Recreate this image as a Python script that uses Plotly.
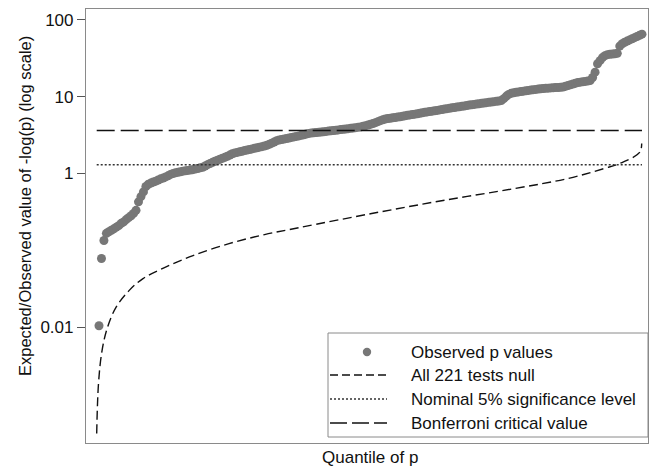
import plotly.graph_objects as go

# Observed -log10(p) for the 221 tests, sorted ascending (quantile rank i/222)
observed = [
    0.0104, 0.078, 0.134, 0.166, 0.174, 0.182, 0.19, 0.20, 0.209, 0.224,
    0.234, 0.251, 0.266, 0.282, 0.302, 0.331, 0.427, 0.50, 0.575, 0.676,
    0.724, 0.75, 0.776, 0.794, 0.822, 0.851, 0.871, 0.902, 0.933, 0.973,
    1.0, 1.02, 1.035, 1.054, 1.072, 1.084, 1.096, 1.109, 1.122, 1.143,
    1.161, 1.186, 1.208, 1.253, 1.303, 1.349, 1.396, 1.445, 1.486, 1.531,
    1.578, 1.622, 1.679, 1.738, 1.811, 1.854, 1.884, 1.919, 1.95, 1.986,
    2.018, 2.056, 2.089, 2.128, 2.163, 2.203, 2.239, 2.28, 2.328, 2.399,
    2.483, 2.57, 2.679, 2.729, 2.773, 2.812, 2.851, 2.897, 2.951, 2.999,
    3.041, 3.09, 3.141, 3.199, 3.273, 3.327, 3.357, 3.388, 3.42, 3.443,
    3.467, 3.499, 3.532, 3.565, 3.597, 3.631, 3.664, 3.698, 3.733, 3.767,
    3.802, 3.837, 3.873, 3.908, 3.954, 3.999, 4.046, 4.121, 4.198, 4.285,
    4.375, 4.467, 4.592, 4.732, 4.875, 5.012, 5.129, 5.2, 5.248, 5.309,
    5.37, 5.433, 5.495, 5.572, 5.649, 5.728, 5.794, 5.861, 5.929, 6.012,
    6.095, 6.18, 6.266, 6.339, 6.412, 6.486, 6.561, 6.637, 6.73, 6.823,
    6.918, 6.998, 7.079, 7.161, 7.244, 7.328, 7.413, 7.499, 7.586, 7.691,
    7.78, 7.87, 7.943, 8.035, 8.11, 8.204, 8.279, 8.375, 8.472, 8.551,
    8.63, 8.71, 8.81, 8.913, 9.441, 10.12, 10.72, 11.09, 11.27, 11.43,
    11.56, 11.69, 11.83, 11.97, 12.08, 12.22, 12.36, 12.47, 12.59, 12.71,
    12.79, 12.88, 12.94, 13.03, 13.09, 13.15, 13.21, 13.27, 13.37, 13.65,
    13.96, 14.29, 14.62, 14.96, 15.31, 15.49, 15.67, 15.85, 16.03, 16.22,
    17.78, 20.89, 26.92, 29.5, 32.36, 34.28, 35.32, 35.73, 36.06, 36.31,
    36.73, 45.71, 48.98, 51.29, 53.09, 54.95, 56.89, 58.88, 60.95, 63.1,
    65.31,
]
n_tests = len(observed)
quantile_obs = [(i + 1) / (n_tests + 1) for i in range(n_tests)]

# Expected -log10(p) when all tests are null
null_q = [0.0003, 0.0036, 0.0100, 0.0198, 0.0355, 0.0593, 0.0848, 0.1240,
          0.1761, 0.2418, 0.3067, 0.3714, 0.5022, 0.6324, 0.7630, 0.8605,
          0.9262, 0.9591, 0.9912, 0.9950]
null_val = [0.00041, 0.00184, 0.0049, 0.0098, 0.0180, 0.0298, 0.0428, 0.0595,
            0.0853, 0.122, 0.160, 0.198, 0.301, 0.445, 0.637, 0.861,
            1.16, 1.39, 1.88, 2.46]

# Reference levels
ref_q = [0.0003, 0.9955]
nominal_level = 1.30
bonferroni_level = 3.64

# Axis ticks
y_tickvals = [0.01, 1, 10, 100]
y_ticktext = ["0.01", "1", "10", "100"]

FONT = "Liberation Sans, Arial, sans-serif"
W, H = 649, 468
ML, MR, MT, MB = 86, 1, 9, 25
PW, PH = W - ML - MR, H - MT - MB


def px_x(p):
    return (p - ML) / PW


def px_y(p):
    return (H - MB - p) / PH


fig = go.Figure()
fig.add_trace(go.Scatter(
    x=quantile_obs, y=observed, mode="markers",
    marker=dict(size=9, color="#777777", line=dict(width=0)),
    showlegend=False,
))
fig.add_trace(go.Scatter(
    x=null_q, y=null_val, mode="lines", line_shape="spline",
    line=dict(color="#111111", width=1.4, dash="9px,4.5px"),
    showlegend=False,
))
fig.add_trace(go.Scatter(
    x=ref_q, y=[nominal_level] * 2, mode="lines",
    line=dict(color="#333333", width=1.5, dash="2px,2px"),
    showlegend=False,
))
fig.add_trace(go.Scatter(
    x=ref_q, y=[bonferroni_level] * 2, mode="lines",
    line=dict(color="#111111", width=1.5, dash="18px,6px"),
    showlegend=False,
))

# Legend box drawn inside the plot area
shapes = [dict(type="rect", xref="paper", yref="paper",
               x0=px_x(328), x1=1.0, y0=px_y(437), y1=px_y(333),
               line=dict(color="#8a8a8a", width=1), fillcolor="white", layer="above")]
rows_y = [352, 375, 399, 423]
labels = ["Observed p values", "All 221 tests null",
          "Nominal 5% significance level", "Bonferroni critical value"]
r = 4.2
shapes.append(dict(type="circle", xref="paper", yref="paper",
                   x0=px_x(367 - r), x1=px_x(367 + r),
                   y0=px_y(rows_y[0] + r), y1=px_y(rows_y[0] - r),
                   fillcolor="#777777", line=dict(width=0), layer="above"))
sample_styles = [("#111111", "8px,4px"), ("#333333", "2px,2px"), ("#111111", "17px,5px")]
for yy, (col, dash) in zip(rows_y[1:], sample_styles):
    shapes.append(dict(type="line", xref="paper", yref="paper",
                       x0=px_x(330), x1=px_x(387), y0=px_y(yy), y1=px_y(yy),
                       line=dict(color=col, width=1.5, dash=dash), layer="above"))

annotations = []
for yy, txt in zip(rows_y, labels):
    annotations.append(dict(xref="paper", yref="paper", x=px_x(409), y=px_y(yy),
                            text=txt, showarrow=False, xanchor="left", yanchor="middle",
                            font=dict(family=FONT, size=17, color="#111111")))
annotations.append(dict(xref="paper", yref="paper", x=px_x(25), y=px_y(206),
                        text="Expected/Observed value of -log(p) (log scale)",
                        textangle=-90, showarrow=False, xanchor="center", yanchor="middle",
                        font=dict(family=FONT, size=16.5, color="#111111")))
annotations.append(dict(xref="paper", yref="paper", x=px_x(370), y=px_y(458),
                        text="Quantile of p", showarrow=False,
                        xanchor="center", yanchor="middle",
                        font=dict(family=FONT, size=17, color="#111111")))

fig.update_layout(
    width=W, height=H,
    margin=dict(l=ML, r=MR, t=MT, b=MB),
    paper_bgcolor="white", plot_bgcolor="white",
    font=dict(family=FONT, size=17, color="#111111"),
    shapes=shapes, annotations=annotations,
    xaxis=dict(range=[-0.01922, 1.0065], showticklabels=False, ticks="",
               showgrid=False, zeroline=False, showline=True, mirror=True,
               linecolor="#8a8a8a", linewidth=1.2),
    yaxis=dict(type="log", range=[-3.511, 2.143], tickvals=y_tickvals,
               ticktext=y_ticktext, ticks="outside", ticklen=8, tickwidth=1.2,
               tickcolor="#555555", showgrid=False, zeroline=False,
               showline=True, mirror=True, linecolor="#8a8a8a", linewidth=1.2,
               tickfont=dict(family=FONT, size=17, color="#111111")),
)

fig.write_html("out.html")
